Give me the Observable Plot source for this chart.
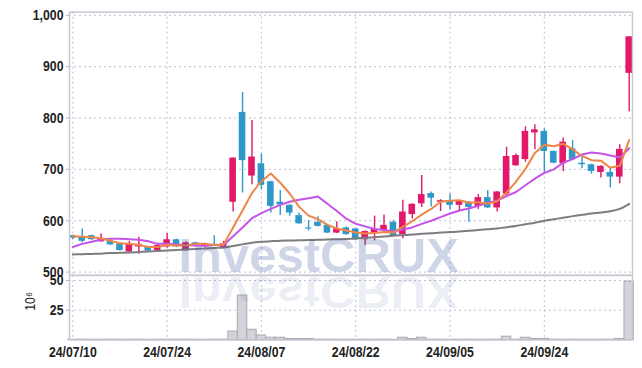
<!DOCTYPE html>
<html><head><meta charset="utf-8">
<script src="https://cdn.jsdelivr.net/npm/d3@7"></script>
<script src="https://cdn.jsdelivr.net/npm/@observablehq/plot@0.6"></script>
<style>
body{margin:0;background:#fff;}
#wrap{position:relative;width:642px;height:368px;overflow:hidden;background:#fff;}
#wrap svg{position:absolute;left:0;background:transparent;overflow:visible;}
</style></head><body><div id="wrap"></div>
<script>
const dates = ["24/07/10","24/07/11","24/07/12","24/07/15","24/07/16","24/07/17","24/07/18","24/07/19","24/07/22","24/07/23","24/07/24","24/07/25","24/07/26","24/07/29","24/07/30","24/07/31",
"24/08/01","24/08/02","24/08/05","24/08/06","24/08/07","24/08/08","24/08/09","24/08/12","24/08/13","24/08/14","24/08/16","24/08/19","24/08/20","24/08/21","24/08/22","24/08/23","24/08/26","24/08/27","24/08/28","24/08/29","24/08/30",
"24/09/02","24/09/03","24/09/04","24/09/05","24/09/06","24/09/09","24/09/10","24/09/11","24/09/12","24/09/13","24/09/19","24/09/20","24/09/23","24/09/24","24/09/25","24/09/26","24/09/27","24/09/30",
"24/10/02","24/10/04","24/10/07","24/10/08","24/10/10"];
const open = [571,568,571,559,560,555,539,549,548,542, 549,563,542,557,549,554,547,636,811,687, 711,676,636,630,610,586,597,591,576,586, 584,563,576,581,597,573,612,633,653,636, 639,630,636,628,645,625,652,707,719,771, 774,735,711,740,712,709,694,694,685,887];
const high = [572,584,572,574,561,556,560,568,549,556, 575,564,559,558,556,571,560,722,850,795, 730,677,659,631,615,600,608,592,598,588, 585,580,609,611,600,640,633,688,656,641, 652,639,637,651,659,657,743,730,783,787, 779,736,761,756,725,710,707,704,748,958];
const low = [563,557,562,558,552,541,537,535,540,540, 547,548,541,550,547,551,546,617,654,670, 660,615,610,609,593,580,588,575,575,572, 561,552,561,578,570,565,604,626,627,618, 621,617,597,622,624,617,649,706,714,738, 691,711,696,717,701,691,683,664,672,812];
const close = [566,560,563,564,553,542,554,554,541,552, 563,549,557,553,554,552,555,722,717,724, 669,628,631,615,594,584,589,576,584,573, 563,579,583,591,571,617,632,651,644,639, 630,638,626,645,625,656,725,727,774,777, 735,712,753,719,709,696,706,685,739,958];
const ma5 = [570,569,568,566,561,556,555,553,549,549, 553,552,552,555,555,553,554,587,620,654, 677,692,674,653,627,610,603,592,585,581, 577,575,576,578,577,588,599,612,623,637, 639,640,635,636,633,638,655,676,701,732, 748,745,750,739,726,718,717,703,707,757];
const ma10 = [549,555,559,563,565,565,564,563,560,555, 555,554,553,552,552,553,553,570,587,605, 615,623,631,637,641,644,647,633,619,604, 594,589,584,582,579,583,587,594,600,607, 614,620,624,629,635,639,648,656,669,682, 693,700,713,720,729,733,731,727,723,741];
const maLong = [534.5,535,535.5,536,537,537.5,538,539,540,541, 542,543,544,545,546,547,548,551,554,557, 559,560,561,561.5,562,562.5,563,563.5,564,564.5, 565.5,567,568,569.5,571,572,573,574.5,575.5,577, 578,579,580.5,582,583.5,585,587.5,590,593,596, 600,603,606,609,611.5,614,616,618.5,623,633];
const volume = [0.2,0.3,0.2,0.2,0.3,0.2,0.2,0.3,0.2,0.2, 0.3,0.2,0.3,0.2,0.2,0.3,0.3,7.1,37.4,8.6, 3.8,1.9,1.9,0.9,0.9,0.9,0.3,0.3,0.2,0.2, 0.2,0.3,0.2,0.3,0.2,1.9,0.9,1.9,0.3,0.2, 0.2,0.2,0.3,0.2,0.2,0.3,2.8,0.3,1.9,0.9, 0.9,0.3,0.2,0.3,0.2,0.2,0.2,0.3,0.9,49];
const tickIdx = [0,10,20,30,40,50];
const priceTicks = [500,600,700,800,900,1000];
const volTicks = [25,50];
const watermark = "InvestCRUX";
const volUnit = "10⁶";

const UP = "#e2186a", DOWN = "#3097c9";
const GRID = "#bcc0da", FRAME = "#c9c9d2";
const FONT = '"Liberation Sans",Arial,sans-serif';
const rows = open.map((o, i) => ({i, open: o, high: high[i], low: low[i], close: close[i], vol: volume[i], ma5: ma5[i], ma10: ma10[i], maLong: maLong[i]}));
const col = d => d.close >= d.open ? UP : DOWN;
const xDomain = [-0.35, 59.35];
const baseStyle = {fontFamily: FONT, fontSize: "15px", fontWeight: "bold", color: "#222", background: "transparent", overflow: "visible"};
const wmOpts = {textAnchor: "start", lineAnchor: "bottom", fontSize: 49, fontWeight: "bold", fontFamily: FONT, fill: "#34509a"};

const price = Plot.plot({
  width: 642, height: 276,
  marginLeft: 69, marginRight: 10, marginTop: 11.7, marginBottom: 1.3,
  style: baseStyle,
  color: {type: "identity"},
  x: {domain: xDomain, axis: null},
  y: {domain: [494, 1006], axis: null},
  marks: [
    Plot.gridY(priceTicks, {stroke: GRID, strokeOpacity: 1, strokeDasharray: "2,3"}),
    Plot.gridX(tickIdx, {stroke: GRID, strokeOpacity: 1, strokeDasharray: "2,3"}),
    Plot.axisY(priceTicks, {label: null, tickSize: 3, tickPadding: 3, stroke: "#b8b8c4", fill: "#222", tickFormat: d3.format(",")}),
    Plot.ruleX(rows, {x: "i", y1: "low", y2: "high", stroke: col, strokeWidth: 1.4}),
    Plot.rect(rows, {x1: d => d.i - 0.35, x2: d => d.i + 0.35, y1: "open", y2: "close", fill: col}),
    Plot.line(rows, {x: "i", y: "maLong", stroke: "#7d7d80", strokeWidth: 2, curve: "monotone-x"}),
    Plot.line(rows, {x: "i", y: "ma10", stroke: "#c653e8", strokeWidth: 2}),
    Plot.line(rows, {x: "i", y: "ma5", stroke: "#ef8546", strokeWidth: 2}),
    Plot.text([watermark], {...wmOpts, x: 11.2, y: 500, text: d => d, fillOpacity: 0.24}),
    Plot.frame({stroke: FRAME, strokeWidth: 1.5})
  ]
});
price.style.top = "0px";

const vol = Plot.plot({
  width: 642, height: 93,
  marginLeft: 69, marginRight: 10, marginTop: 0, marginBottom: 28.5,
  style: baseStyle,
  x: {domain: xDomain, axis: null},
  y: {domain: [0, 54.2], axis: null},
  marks: [
    Plot.gridY(volTicks, {stroke: GRID, strokeOpacity: 1, strokeDasharray: "2,3"}),
    Plot.gridX(tickIdx, {stroke: GRID, strokeOpacity: 1, strokeDasharray: "2,3"}),
    Plot.axisY(volTicks, {label: null, tickSize: 3, tickPadding: 3, stroke: "#b8b8c4", fill: "#222"}),
    Plot.axisX(tickIdx, {label: null, tickSize: 0, tickPadding: 6, fill: "#222", tickFormat: i => dates[i]}),
    Plot.rect(rows, {x1: d => d.i - 0.5, x2: d => d.i + 0.5, y1: 0, y2: "vol", fill: "#d3d3d9", stroke: "#a9a9b3", strokeWidth: 1}),
    Plot.text([watermark], {...wmOpts, x: 11.2, y: 52.9, text: d => d, fillOpacity: 0.1}),
    Plot.text([volUnit], {frameAnchor: "left", dx: -39, dy: 3, rotate: -90, text: d => d, fill: "#222", fontSize: 15, fontWeight: "normal"}),
    Plot.frame({stroke: FRAME, strokeWidth: 1.5})
  ]
});
vol.style.top = "275px";

// condense axis labels (narrow face look); flip the watermark reflection
function post(svg, isVol) {
  d3.select(svg).selectAll("text").each(function() {
    const t = this.getAttribute("transform") || "";
    if (this.textContent === watermark) {
      if (isVol) this.setAttribute("transform", t + " scale(1,-0.9)");
      return;
    }
    this.setAttribute("transform", t + " scale(0.82,1)");
  });
}
post(price, false);
post(vol, true);

const wrap = document.getElementById("wrap");
wrap.appendChild(price);
wrap.appendChild(vol);
</script>
</body></html>
